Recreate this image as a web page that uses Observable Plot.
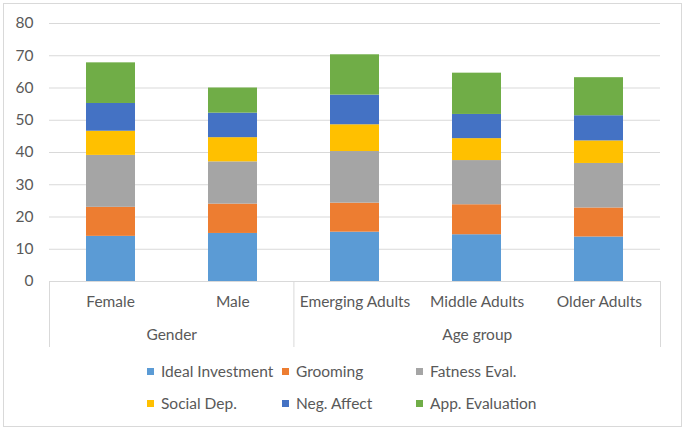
<!DOCTYPE html>
<html>
<head>
<meta charset="utf-8">
<script src="https://cdn.jsdelivr.net/npm/d3@7"></script>
<script src="https://cdn.jsdelivr.net/npm/@observablehq/plot@0.6"></script>
<style>
  html, body { margin: 0; padding: 0; background: #fff; }
  #wrap { position: relative; width: 685px; height: 431px; overflow: hidden; font-family: Lato, "Open Sans", sans-serif; }
  #border { position: absolute; left: 3px; top: 3px; width: 677px; height: 422px; border: 1px solid #d9d9d9; }
  .layer { position: absolute; left: 0; }
  #legend { position: absolute; left: 147px; top: 355px; display: grid; grid-template-columns: 135px 134px auto; grid-auto-rows: 32px; font-size: 15.5px; color: #595959; }
  #legend .item { display: flex; align-items: center; white-space: nowrap; }
  #legend .sw { width: 7px; height: 7px; margin-right: 7px; flex: none; }
</style>
</head>
<body>
<div id="wrap"><div id="border"></div></div>
<script>
// ---- data ----
const categories = ["Female", "Male", "Emerging Adults", "Middle Adults", "Older Adults"];
const groupNames = ["Gender", "Age group"];
const groupSizes = [2, 3];
const series = ["Ideal Investment", "Grooming", "Fatness Eval.", "Social Dep.", "Neg. Affect", "App. Evaluation"];
const idealInvestment = [14.0, 14.9, 15.3, 14.5, 13.8];
const grooming        = [9.0, 9.1, 9.0, 9.3, 9.0];
const fatnessEval     = [16.1, 13.1, 16.0, 13.7, 13.8];
const socialDep       = [7.5, 7.5, 8.3, 6.8, 7.0];
const negAffect       = [8.6, 7.6, 9.2, 7.5, 7.8];
const appEvaluation   = [12.6, 7.8, 12.5, 12.8, 11.8];
const yTicks = [0, 10, 20, 30, 40, 50, 60, 70, 80];
const colors = ["#5B9BD5", "#ED7D31", "#A5A5A5", "#FFC000", "#4472C4", "#70AD47"];

const seriesValues = [idealInvestment, grooming, fatnessEval, socialDep, negAffect, appEvaluation];
const rows = [];
categories.forEach((c, i) => {
  series.forEach((s, j) => rows.push({category: c, series: s, value: seriesValues[j][i]}));
});

const W = 685, mL = 49, mR = 25;
const textColor = "#595959";
const fontSize = "15.5px";
const fontFamily = "Lato, 'Open Sans', sans-serif";

// ---- main chart ----
const main = Plot.plot({
  width: W, height: 282,
  marginLeft: mL, marginRight: mR, marginTop: 23, marginBottom: 1,
  style: {fontFamily, fontSize, color: textColor, background: "transparent", overflow: "visible"},
  x: {domain: categories, paddingInner: 0.6, paddingOuter: 0.3, axis: null},
  y: {domain: [0, 80], ticks: yTicks, label: null, tickSize: 0, tickPadding: 16},
  color: {domain: series, range: colors},
  marks: [
    Plot.gridY(yTicks, {stroke: "#d9d9d9", strokeOpacity: 1, strokeWidth: 1}),
    Plot.axisY(yTicks, {tickSize: 0, tickPadding: 16, label: null, fill: textColor}),
    Plot.barY(rows, {x: "category", y: "value", fill: "series", order: series})
  ]
});
main.classList.add("layer");
main.style.top = "0px";

// ---- multi-level category axis ----
const n = categories.length;
const boundaries = [0];
groupSizes.forEach(s => boundaries.push(boundaries[boundaries.length - 1] + s));
const groupCenters = groupNames.map((g, k) => ({name: g, x: (boundaries[k] + boundaries[k + 1]) / 2}));
const catPos = categories.map((c, i) => ({name: c, x: i + 0.5}));

const axis = Plot.plot({
  width: W, height: 66,
  marginLeft: mL, marginRight: mR, marginTop: 0, marginBottom: 0,
  style: {fontFamily, fontSize, color: textColor, background: "transparent", overflow: "visible"},
  x: {domain: [0, n], axis: null},
  y: {axis: null},
  marks: [
    Plot.frame({anchor: "top", stroke: "#d9d9d9", strokeOpacity: 1}),
    Plot.ruleX(boundaries, {stroke: "#d9d9d9", strokeOpacity: 1}),
    Plot.text(catPos, {x: "x", text: "name", frameAnchor: "top", dy: 21, lineAnchor: "middle", fill: textColor}),
    Plot.text(groupCenters, {x: "x", text: "name", frameAnchor: "top", dy: 54, lineAnchor: "middle", fill: textColor})
  ]
});
axis.classList.add("layer");
axis.style.top = "281px";

const wrap = document.getElementById("wrap");
wrap.appendChild(main);
wrap.appendChild(axis);

// ---- legend ----
const legend = d3.select(wrap).append("div").attr("id", "legend");
const items = legend.selectAll(".item").data(series).join("div").attr("class", "item");
items.append("span").attr("class", "sw").style("background", (d, i) => colors[i]);
items.append("span").text(d => d);
</script>
</body>
</html>
